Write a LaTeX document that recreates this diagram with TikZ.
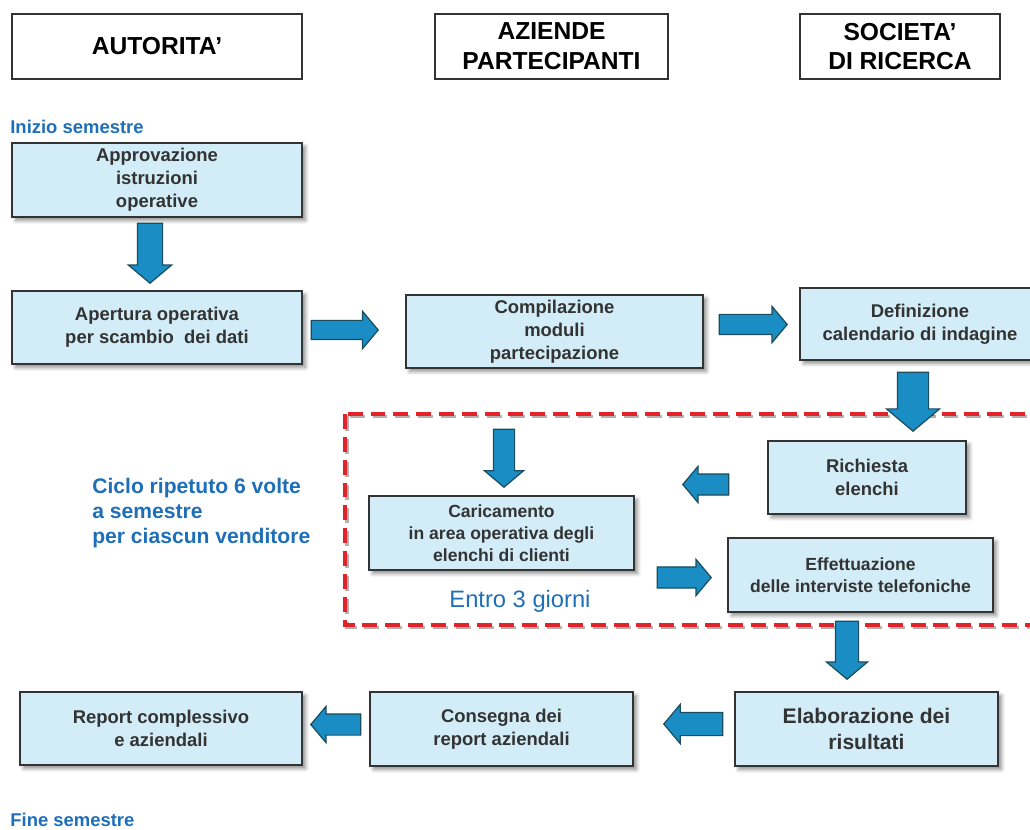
\documentclass[tikz,border=0pt]{standalone}
\usepackage{fontspec}
\setmainfont{Liberation Sans}
\usetikzlibrary{shapes.arrows,shadows.blur}
\definecolor{ink}{HTML}{333333}
\definecolor{cyanfill}{HTML}{D2EDF8}
\definecolor{arrowblue}{HTML}{1A8DC4}
\definecolor{arrowline}{HTML}{1C4D5E}
\definecolor{labelblue}{HTML}{1E6FB8}
\definecolor{loopred}{HTML}{E3232A}

\begin{document}
\begin{tikzpicture}[x=.02cm,y=-.02cm,every node/.style={font=\bfseries\fontsize{10.5}{13}\selectfont,text=ink,align=center,inner sep=0pt},head/.style={draw=ink,line width=.8pt,fill=white,text=black,font=\bfseries\fontsize{14}{17}\selectfont,minimum height=1.3cm},task/.style={draw=ink,line width=.8pt,fill=cyanfill,minimum height=1.48cm,blur shadow={shadow xshift=2pt,shadow yshift=-2pt,shadow blur steps=6,shadow opacity=45}},barrow/.style 2 args={single arrow,anchor=tip,draw=arrowline,fill=arrowblue,line width=.7pt,minimum height=1.2cm,inner xsep=0pt,inner ysep=#1,single arrow head extend=#2,single arrow tip angle=100},tag/.style={anchor=west,text=labelblue}]
\path[use as bounding box] (0,0) rectangle (1030,830);

% column headers
\node[head,minimum width=5.8cm] (hAut) at (157,46.5) {AUTORITA'};
\node[head,minimum width=4.66cm] (hAzi) at (551.5,46.5) {AZIENDE\\PARTECIPANTI};
\node[head,minimum width=4cm] (hSoc) at (900,46.5) {SOCIETA'\\DI RICERCA};

\node[tag] (start) at (10,127) {Inizio semestre};
\node[tag] (finish) at (10,820) {Fine semestre};

% repeated cycle
\draw[black!30,line width=2.2pt,dash pattern=on 8.5pt off 4.5pt] (347,416.5) rectangle (1047,627.5);
\draw[loopred,line width=2.2pt,dash pattern=on 8.5pt off 4.5pt] (345,414) rectangle (1045,625);
\node[tag,font=\bfseries\fontsize{12}{14}\selectfont,align=left] (cycle) at (92,513) {Ciclo ripetuto 6 volte\\a semestre\\per ciascun venditore};
\node[text=labelblue,font=\fontsize{13.5}{16}\selectfont] (within) at (520,601) {Entro 3 giorni};

% activities
\node[task,minimum width=5.8cm] (app) at (157,180) {Approvazione\\istruzioni\\operative};
\node[task,minimum width=5.8cm,minimum height=1.46cm] (ape) at (157,327.5) {Apertura operativa\\per scambio\ \ dei dati};
\node[task,minimum width=5.94cm,minimum height=1.46cm] (com) at (554.5,331.5) {Compilazione\\moduli\\partecipazione};
\node[task,minimum width=4.8cm,minimum height=1.44cm] (def) at (920,324) {Definizione\\calendario di indagine};
\node[task,minimum width=3.96cm,minimum height=1.46cm] (ric) at (867,477.5) {Richiesta\\elenchi};
\node[task,minimum width=5.3cm,font=\bfseries\fontsize{10}{12.5}\selectfont] (car) at (501.5,533) {Caricamento\\in area operativa degli\\elenchi di clienti};
\node[task,minimum width=5.3cm,font=\bfseries\fontsize{10}{12.5}\selectfont] (eff) at (860.5,575) {Effettuazione\\delle interviste telefoniche};
\node[task,minimum width=5.26cm,font=\bfseries\fontsize{12}{14.5}\selectfont] (ela) at (866.5,729) {Elaborazione dei\\risultati};
\node[task,minimum width=5.26cm] (con) at (501.5,729) {Consegna dei\\report aziendali};
\node[task,minimum width=5.64cm,minimum height=1.46cm] (rep) at (161,728.5) {Report complessivo\\e aziendali};

% block arrows, placed by their tips
\node[barrow={.24cm}{.18cm},rotate=-90] (a1) at (150,284) {};
\node[barrow={.18cm}{.18cm},minimum height=1.34cm] (a2) at (379,330) {};
\node[barrow={.19cm}{.16cm},minimum height=1.36cm] (a3) at (788,324.5) {};
\node[barrow={.3cm}{.22cm},rotate=-90,minimum height=1.18cm] (a4) at (913,432) {};
\node[barrow={.2cm}{.18cm},rotate=-90,minimum height=1.16cm] (a5) at (504,488) {};
\node[barrow={.2cm}{.15cm},rotate=180,minimum height=.92cm] (a6) at (682,484.5) {};
\node[barrow={.2cm}{.15cm},minimum height=1.08cm] (a7) at (712,577.5) {};
\node[barrow={.22cm}{.18cm},rotate=-90,minimum height=1.16cm] (a8) at (847,680) {};
\node[barrow={.22cm}{.16cm},rotate=180,minimum height=1.18cm] (a9) at (663,724) {};
\node[barrow={.2cm}{.15cm},rotate=180,minimum height=1cm] (a10) at (310,724.5) {};

\end{tikzpicture}
\end{document}
